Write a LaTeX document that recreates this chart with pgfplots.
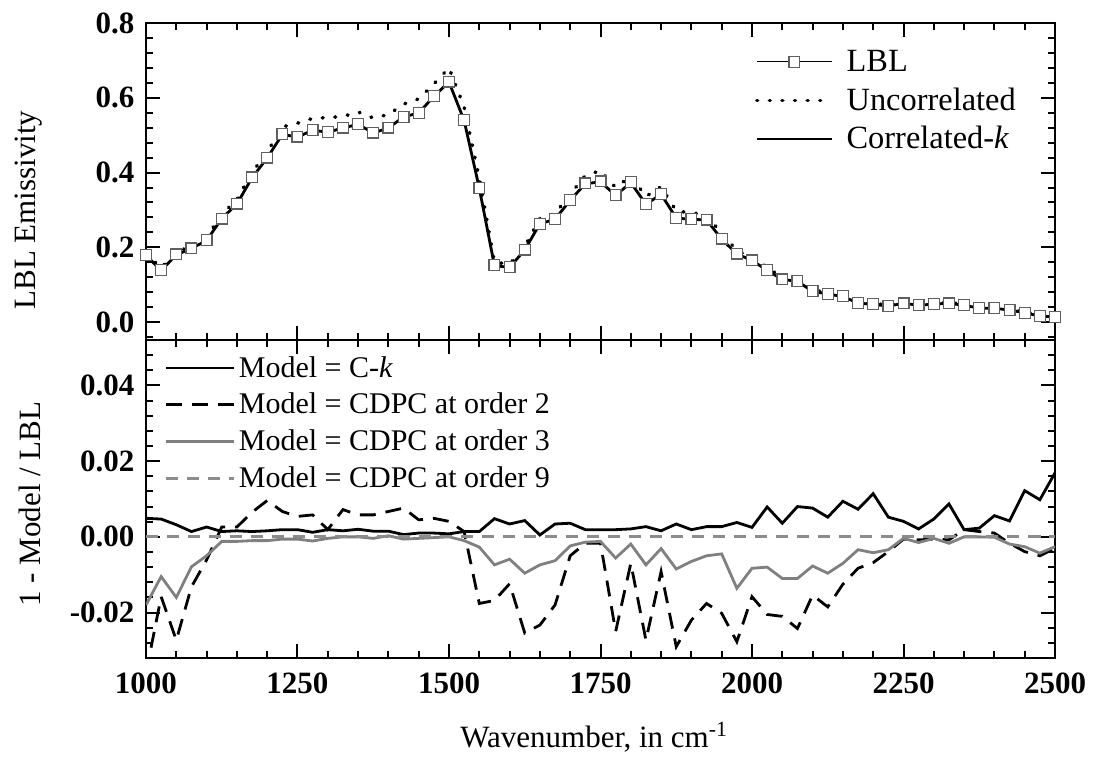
\documentclass[border=0pt]{standalone}
\usepackage{fontspec}
\setmainfont{Liberation Serif}
\usepackage{pgfplots}
\usepackage{pgfplotstable}
\pgfplotsset{compat=1.18}

\pgfplotstableread{
x lbl unc ck eck e2 e3 e9
1000 0.179 0.183 0.178 0.0049 -0.036 -0.0180 0
1025 0.139 0.145 0.138 0.0047 -0.0158 -0.0105 0
1050 0.181 0.187 0.180 0.0032 -0.0273 -0.0160 0
1075 0.197 0.203 0.197 0.0014 -0.0132 -0.0079 0
1100 0.219 0.227 0.218 0.0026 -0.0061 -0.0050 0
1125 0.277 0.288 0.277 0.0014 0.0026 -0.0012 0
1150 0.317 0.328 0.316 0.0016 0.0026 -0.0012 0
1175 0.387 0.400 0.386 0.0014 0.0065 -0.0010 0
1200 0.440 0.455 0.439 0.0016 0.0096 -0.0010 0
1225 0.503 0.522 0.502 0.0019 0.0067 -0.0006 0
1250 0.496 0.532 0.495 0.0019 0.0054 -0.0006 0
1275 0.514 0.545 0.513 0.0012 0.0058 -0.0011 0
1300 0.509 0.547 0.508 0.0019 0.0019 -0.0004 0
1325 0.520 0.550 0.519 0.0016 0.0072 0.0000 0
1350 0.530 0.562 0.529 0.0020 0.0058 0.0000 0
1375 0.507 0.546 0.506 0.0015 0.0058 -0.0004 0
1400 0.520 0.555 0.519 0.0015 0.0067 0.0003 0
1425 0.549 0.583 0.549 0.0006 0.0076 -0.0006 0
1450 0.560 0.597 0.559 0.0010 0.0045 -0.0004 0
1475 0.605 0.637 0.604 0.0010 0.0049 -0.0002 0
1500 0.643 0.680 0.642 0.0008 0.0041 0.0000 0
1525 0.540 0.575 0.539 0.0014 0.0014 -0.0010 0
1550 0.359 0.385 0.358 0.0014 -0.0176 -0.0027 0
1575 0.152 0.160 0.151 0.0048 -0.0168 -0.0074 0
1600 0.147 0.155 0.146 0.0034 -0.0124 -0.0059 0
1625 0.194 0.202 0.193 0.0043 -0.0254 -0.0096 0
1650 0.263 0.277 0.263 0.0005 -0.0233 -0.0074 0
1675 0.276 0.290 0.275 0.0034 -0.0180 -0.0063 0
1700 0.327 0.342 0.326 0.0036 -0.0050 -0.0024 0
1725 0.371 0.392 0.370 0.0019 -0.0017 -0.0014 0
1750 0.376 0.405 0.375 0.0019 -0.0017 -0.0012 0
1775 0.340 0.360 0.339 0.0019 -0.0250 -0.0056 0
1800 0.374 0.390 0.373 0.0021 -0.0070 -0.0019 0
1825 0.316 0.336 0.315 0.0027 -0.0273 -0.0074 0
1850 0.343 0.362 0.342 0.0016 -0.0092 -0.0031 0
1875 0.279 0.297 0.278 0.0034 -0.0290 -0.0085 0
1900 0.276 0.292 0.275 0.0019 -0.0220 -0.0065 0
1925 0.274 0.287 0.273 0.0027 -0.0176 -0.0050 0
1950 0.223 0.236 0.222 0.0027 -0.0202 -0.0045 0
1975 0.183 0.192 0.182 0.0038 -0.0277 -0.0136 0
2000 0.165 0.172 0.165 0.0025 -0.0158 -0.0083 0
2025 0.139 0.146 0.138 0.0079 -0.0205 -0.0080 0
2050 0.114 0.119 0.114 0.0036 -0.0210 -0.0110 0
2075 0.110 0.114 0.109 0.0080 -0.0242 -0.0110 0
2100 0.083 0.086 0.082 0.0076 -0.0154 -0.0077 0
2125 0.075 0.078 0.075 0.0052 -0.0185 -0.0096 0
2150 0.069 0.071 0.068 0.0094 -0.0125 -0.0070 0
2175 0.051 0.053 0.051 0.0073 -0.0083 -0.0034 0
2200 0.048 0.050 0.047 0.0114 -0.0068 -0.0042 0
2225 0.043 0.045 0.043 0.0052 -0.0039 -0.0034 0
2250 0.050 0.052 0.050 0.0041 -0.0006 -0.0004 0
2275 0.045 0.047 0.045 0.0021 -0.0008 -0.0015 0
2300 0.048 0.050 0.048 0.0047 -0.0006 -0.0004 0
2325 0.050 0.052 0.050 0.0087 -0.0008 -0.0017 0
2350 0.045 0.047 0.045 0.0019 0.0019 0.0000 0
2375 0.037 0.039 0.037 0.0023 0.0014 0.0000 0
2400 0.037 0.039 0.037 0.0056 0.0010 -0.0001 0
2425 0.032 0.033 0.032 0.0042 -0.0017 -0.0019 0
2450 0.025 0.026 0.025 0.0122 -0.0039 -0.0026 0
2475 0.016 0.017 0.016 0.0098 -0.0050 -0.0043 0
2500 0.014 0.015 0.014 0.0169 -0.0030 -0.0026 0
}\data

\definecolor{lgray}{RGB}{128,128,128}
\definecolor{dgray}{RGB}{140,140,140}
\definecolor{sqgray}{RGB}{95,95,95}

\pgfplotsset{
  common/.style={
    scale only axis,
    width=454.5pt,
    xmin=1000, xmax=2500,
    xtick={1000,1250,...,2500},
    minor xtick={1000,1050,...,2500},
    tick align=inside,
    xtick pos=both, ytick pos=both,
    xticklabel pos=lower, yticklabel pos=left,
    major tick length=7pt, minor tick length=3.5pt,
    axis line style={line width=1.3pt},
    every tick/.append style={black, line width=1pt},
    tick label style={font=\fontsize{15.5}{18}\selectfont\bfseries},
    label style={font=\fontsize{15.5}{18}\selectfont},
    /pgf/number format/assume math mode=true,
    scaled y ticks=false, scaled x ticks=false,
    yticklabel style={xshift=-2.3pt},
    xticklabel style={yshift=-4pt, /pgf/number format/1000 sep={}},
    legend cell align=left,
  },
}

\begin{document}
\begin{tikzpicture}
\path[use as bounding box] (0pt,0pt) rectangle (547pt,380.5pt);

\begin{axis}[common,
  at={(73pt,210.5pt)}, anchor=south west,
  height=158.5pt,
  ymin=-0.048, ymax=0.8,
  ytick={0,0.2,...,0.8},
  minor ytick={-0.04,0,0.04,...,0.8},
  xticklabels={},
  yticklabel style={/pgf/number format/fixed, /pgf/number format/fixed zerofill, /pgf/number format/precision=1},
  ylabel={LBL Emissivity},
  ylabel style={at={(axis description cs:-0.1221,0.41)}, anchor=base},
  legend style={draw=none, fill=none, at={(axis description cs:0.670,0.925)}, anchor=north west,
    inner sep=0pt, outer sep=0pt, row sep=4.3pt,
    font=\fontsize{16.2}{19}\selectfont,
    nodes={inner sep=0pt, text height=12.5pt, text depth=2.5pt},
    /tikz/every odd column/.append style={column sep=6.5pt}},
  legend image code/.code={\draw[mark repeat=2,mark phase=2,#1] plot coordinates {(0pt,0pt) (18.75pt,0pt) (37.5pt,0pt)};},
]
\addplot[black, line width=0.5pt, mark=square*, mark size=2.7pt,
  mark options={draw=sqgray, fill=white, line width=0.6pt, solid}] table[x=x,y=lbl] {\data};
\addlegendentry{LBL}
\addplot[black, line width=1.8pt, line cap=round, dash pattern=on 0.4pt off 5.9pt] table[x=x,y=unc] {\data};
\addlegendentry{Uncorrelated}
\addplot[black, line width=1.4pt] table[x=x,y=ck] {\data};
\addlegendentry{Correlated-\textit{k}}
\end{axis}

\begin{axis}[common,
  at={(73pt,51.5pt)}, anchor=south west,
  height=159pt,
  ymin=-0.032, ymax=0.052,
  ytick={-0.02,0,0.02,0.04},
  minor ytick={-0.032,-0.028,...,0.052},
  yticklabel style={/pgf/number format/fixed, /pgf/number format/fixed zerofill, /pgf/number format/precision=2},
  ylabel={1 - Model / LBL},
  ylabel style={at={(axis description cs:-0.1166,0.484)}, anchor=base},
  xlabel={Wavenumber, in cm\textsuperscript{-1}},
  xlabel style={at={(axis description cs:0.493,-0.28)}, anchor=base},
  legend style={draw=none, fill=none, at={(axis description cs:0.021,0.959)}, anchor=north west,
    inner sep=0pt, outer sep=0pt, row sep=3.35pt,
    font=\fontsize{15}{18}\selectfont,
    nodes={inner sep=0pt, text height=12pt, text depth=3pt},
    /tikz/every odd column/.append style={column sep=1.5pt}},
  legend image code/.code={\draw[#1] (0pt,0pt) -- (34pt,0pt);},
]
\addplot[black, line width=1.4pt] table[x=x,y=eck] {\data};
\addlegendentry{Model = C-\textit{k}}
\addplot[black, line width=1.4pt, dash pattern=on 8pt off 5pt] table[x=x,y=e2] {\data};
\addlegendentry{Model = CDPC at order 2}
\addplot[lgray, line width=1.4pt] table[x=x,y=e3] {\data};
\addlegendentry{Model = CDPC at order 3}
\addplot[dgray, line width=1.4pt, dash pattern=on 6pt off 4.5pt] table[x=x,y=e9] {\data};
\addlegendentry{Model = CDPC at order 9}
\end{axis}
\end{tikzpicture}
\end{document}
